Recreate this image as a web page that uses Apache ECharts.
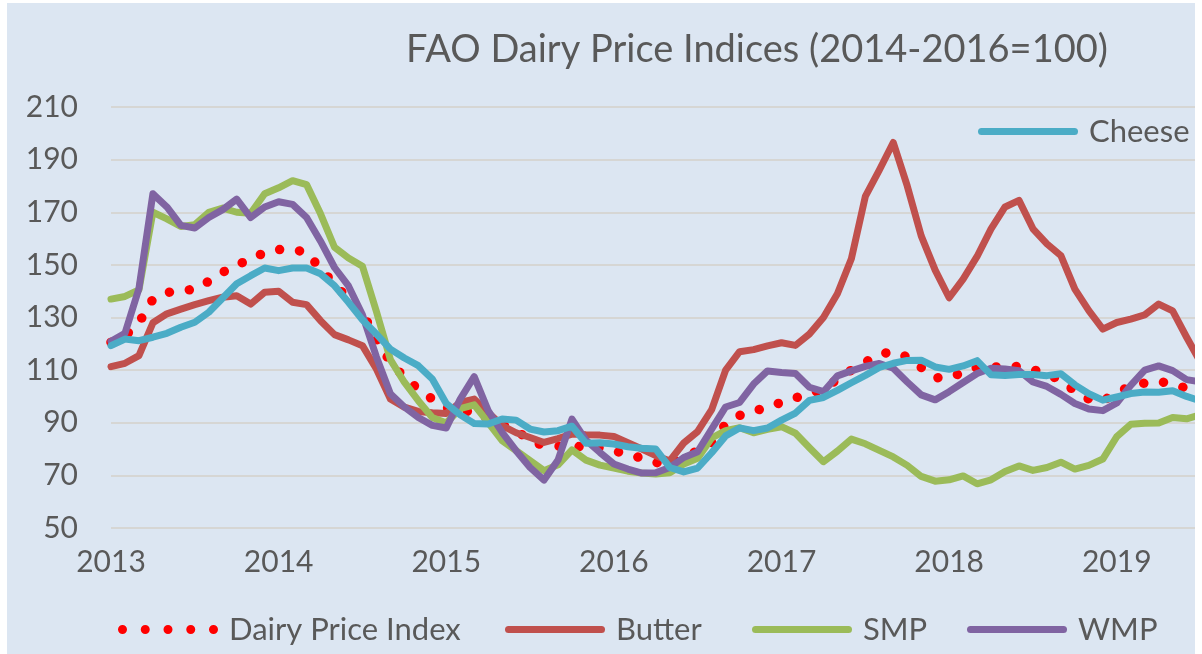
<!DOCTYPE html>
<html>
<head>
<meta charset="utf-8">
<script src="https://cdn.jsdelivr.net/npm/echarts@6/dist/echarts.min.js"></script>
<style>
html, body { margin: 0; padding: 0; background: #ffffff; }
#chart { position: absolute; left: 7px; top: 3px; width: 1188px; height: 651px; background: #dce6f2; }
</style>
</head>
<body>
<div id="chart"></div>
<script>
// monthly values, Jan 2013 = index 0
var yearLabels = ['2013', '2014', '2015', '2016', '2017', '2018', '2019'];

var dairyIndex = [120.6, 123, 128, 137, 139.5, 140.2, 140.7, 143.8, 147.2, 150.1,
	152, 154.8, 155.8, 155.8, 154.8, 148.5, 142.8, 137, 131.6, 122,
	113, 107.3, 102.8, 99, 95.7, 94.8, 94, 91.4, 89.2, 87.3,
	83, 81.4, 81.1, 81, 80.9, 80.6, 79.3, 78.1, 76.5, 74.9,
	74.3, 76.5, 79.5, 82.5, 89.5, 92.8, 94.5, 95.8, 97.8, 99.5,
	100.8, 102.8, 106.5, 110, 113, 116.1, 117, 115, 111, 107.1,
	107.2, 109.1, 111, 111.2, 111.2, 111.4, 110.2, 108.6, 106.1, 102,
	99, 98.2, 101.7, 103.7, 105.1, 105.8, 104.6, 103.1, 102.5];

var butter = [111.3, 112.6, 115.5, 128, 131.4, 133.2, 134.9, 136.4, 137.7, 138.3,
	135.1, 139.6, 140, 135.8, 134.9, 128.8, 123.5, 121.5, 119.3, 110.4,
	99, 95.9, 94.3, 93.8, 93.5, 97.7, 99, 93.9, 88.9, 86.2,
	84.4, 82.5, 84, 85.7, 85.4, 85.3, 84.8, 82.4, 80, 77.5,
	75.5, 82.3, 86.7, 95, 110, 117, 117.8, 119.2, 120.4, 119.4,
	123.7, 130, 139, 152.3, 176, 186, 196.5, 180, 161, 148,
	137.5, 144.6, 153.2, 163.7, 172, 174.5, 163.7, 158, 153.5, 140.8,
	132.6, 125.6, 128.1, 129.4, 131, 135.1, 132.5, 122.5, 113];

var smp = [137, 138, 140.5, 170, 167.5, 164.6, 165.3, 170, 171.6, 170,
	169.6, 177, 179.3, 182, 180.5, 169.4, 156.7, 152.6, 149.5, 132.3,
	114, 105.4, 98.4, 92, 89.9, 95.4, 96.8, 90.1, 83.2, 79.4,
	75.6, 71.8, 74, 79.7, 75.8, 73.9, 72.8, 71.6, 70.9, 70.5,
	71, 74.3, 76.5, 84.2, 87, 88.1, 86.2, 87.5, 88.5, 86,
	80.5, 75.2, 79.2, 83.8, 82, 79.5, 77, 73.8, 69.6, 67.8,
	68.3, 69.8, 66.8, 68.3, 71.5, 73.6, 71.9, 73, 75, 72.4,
	73.8, 76.2, 84.7, 89.4, 89.8, 89.9, 92, 91.5, 93];

var wmp = [121, 124, 141, 177, 172, 165, 164, 168, 171, 175,
	168, 172, 174, 173, 168, 159, 149, 142, 131, 115,
	101, 96, 92, 89, 88, 99, 107.5, 94.6, 86.3, 79.4,
	73, 68.2, 75.8, 91.4, 83.4, 78.7, 74.3, 72.4, 70.9, 71,
	73, 76.8, 79, 87.6, 96, 97.7, 104.7, 109.7, 109.1, 108.7,
	103.5, 101.8, 107.8, 109.7, 111.4, 112.5, 110.7, 105.5, 100.6, 98.7,
	101.8, 105.3, 108.7, 110.7, 110.4, 109.8, 105.5, 103.8, 100.8, 97.3,
	95.2, 94.6, 97.5, 104.2, 110, 111.6, 109.8, 106.4, 105.5];

var cheese = [119.3, 121.8, 121.2, 122.5, 124, 126.3, 128.2, 132, 137.4, 142.8,
	145.9, 148.8, 147.8, 148.8, 148.8, 146.6, 142.1, 135.8, 129.1, 123.7,
	118, 114.6, 111.7, 106.6, 97.3, 93, 89.7, 89.5, 91.4, 91,
	87.6, 86.5, 87, 88.7, 82.2, 82.4, 81.9, 80.9, 80.3, 80,
	73, 71.3, 72.8, 78.6, 85, 88, 87, 88, 91, 93.7,
	98.5, 99.6, 102.3, 105.2, 108, 111, 112.6, 113.7, 113.8, 111.2,
	110.3, 111.6, 113.6, 108.2, 108, 108.3, 108.3, 107.9, 108.6, 104.4,
	101, 98.6, 99.8, 101.1, 101.7, 101.6, 102.2, 100, 98.3];

var yTicks = [50, 210, 20]; // min, max, step

function toPoints(arr) {
	return arr.map(function (v, i) { return [i, v]; });
}

var textColor = '#595959';
var fontName = 'Lato';
// legend icons: five dots / a rounded bar
var dotsIcon = 'path://M0,4.5a4.5,4.5 0 1,0 9,0a4.5,4.5 0 1,0 -9,0Z' +
	'M22.75,4.5a4.5,4.5 0 1,0 9,0a4.5,4.5 0 1,0 -9,0Z' +
	'M45.5,4.5a4.5,4.5 0 1,0 9,0a4.5,4.5 0 1,0 -9,0Z' +
	'M68.25,4.5a4.5,4.5 0 1,0 9,0a4.5,4.5 0 1,0 -9,0Z' +
	'M91,4.5a4.5,4.5 0 1,0 9,0a4.5,4.5 0 1,0 -9,0Z';
var barIcon = 'path://M3.5,0H96.5A3.5,3.5 0 0 1 96.5,7H3.5A3.5,3.5 0 0 1 3.5,0Z';

var myChart = echarts.init(document.getElementById('chart'));

function lineSeries(name, data, color, width) {
	return {
		name: name,
		type: 'line',
		data: toPoints(data),
		symbol: 'none',
		lineStyle: { color: color, width: width, cap: 'round', join: 'round' },
		itemStyle: { color: color },
		emphasis: { disabled: true }
	};
}

function legendItem(name, left, top, icon, h) {
	return {
		data: [name],
		left: left,
		top: top,
		icon: icon,
		itemWidth: 100,
		itemHeight: h,
		itemStyle: { borderWidth: 0 },
		textStyle: { color: textColor, fontSize: 31, fontFamily: fontName, padding: [0, 0, 0, 6] }
	};
}

var dpi = lineSeries('Dairy Price Index', dairyIndex, '#ff0000', 9.5);
dpi.lineStyle.type = [0.01, 20];

var option = {
	animation: false,
	textStyle: { fontFamily: fontName },
	title: {
		text: 'FAO Dairy Price Indices (2014-2016=100)',
		left: 394,
		top: 23,
		textStyle: { color: textColor, fontSize: 38, fontWeight: 'normal', fontFamily: fontName }
	},
	legend: [
		legendItem('Dairy Price Index', 106, 606, dotsIcon, 9),
		legendItem('Butter', 493, 606, barIcon, 7),
		legendItem('SMP', 740, 606, barIcon, 7),
		legendItem('WMP', 955, 606, barIcon, 7),
		legendItem('Cheese', 966, 108, barIcon, 7)
	],
	grid: {
		left: 104,
		right: 0,
		top: 104,
		bottom: 126,
		containLabel: false,
		outerBoundsMode: 'none'
	},
	xAxis: {
		type: 'value',
		min: 0,
		max: 77.6,
		interval: 12,
		axisLine: { show: false },
		axisTick: { show: false },
		splitLine: { show: false },
		axisLabel: {
			margin: 19,
			showMaxLabel: false,
			color: textColor,
			fontSize: 30,
			fontFamily: fontName,
			formatter: function (v) { return yearLabels[v / 12] || ''; }
		}
	},
	yAxis: {
		type: 'value',
		min: yTicks[0],
		max: yTicks[1],
		interval: yTicks[2],
		axisLine: { show: false },
		axisTick: { show: false },
		splitLine: { lineStyle: { color: '#d6d6d4', width: 2 } },
		axisLabel: { margin: 33, color: textColor, fontSize: 30, fontFamily: fontName }
	},
	series: [
		dpi,
		lineSeries('Butter', butter, '#c0504d', 7),
		lineSeries('SMP', smp, '#9bbb59', 7),
		lineSeries('WMP', wmp, '#8064a2', 7),
		lineSeries('Cheese', cheese, '#4bacc6', 7)
	]
};

myChart.setOption(option);
</script>
</body>
</html>
